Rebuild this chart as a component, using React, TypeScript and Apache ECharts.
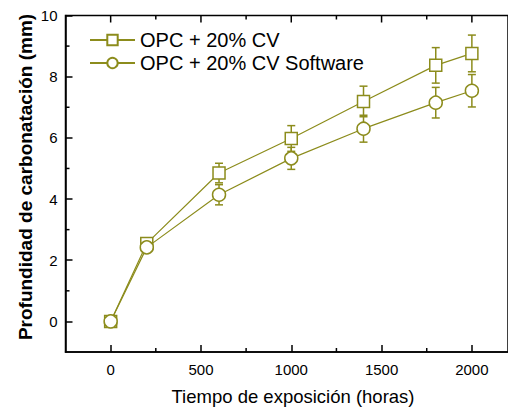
import React, { useEffect, useRef } from "react";
import * as echarts from "echarts";

const hours = [0, 200, 600, 1000, 1400, 1800, 2000];
const cvValues = [0, 2.55, 4.85, 5.98, 7.19, 8.37, 8.76];
const cvErrors = [0, 0.08, 0.32, 0.42, 0.5, 0.58, 0.6];
const swValues = [0, 2.42, 4.14, 5.33, 6.3, 7.15, 7.54];
const swErrors = [0, 0.08, 0.33, 0.36, 0.44, 0.5, 0.53];
const seriesNames = ["OPC + 20% CV", "OPC + 20% CV Software"];
const xMajor = [0, 500, 1000, 1500, 2000];
const xMinor = [250, 750, 1250, 1750];
const yMajor = [0, 2, 4, 6, 8, 10];
const yMinor = [1, 3, 5, 7, 9];
const xTitle = "Tiempo de exposición (horas)";
const yTitle = "Profundidad de carbonatación (mm)";

const X_MIN = -250;
const X_MAX = 2200;
const Y_MIN = -1;
const Y_MAX = 10;

const COLOR = "#8c8c1c";
const FONT = "'Liberation Sans', Arial, Helvetica, sans-serif";
const MAJOR_LEN = 7;
const MINOR_LEN = 4;

function errData(vals: number[], errs: number[]) {
  return hours.map((h, i) => [h, vals[i] - errs[i], vals[i] + errs[i]]);
}

function errorRender(params: any, api: any) {
  const x = api.value(0);
  const lo = api.coord([x, api.value(1)]);
  const hi = api.coord([x, api.value(2)]);
  const w = 4;
  const style = { stroke: COLOR, lineWidth: 1.5 };
  if (Math.abs(hi[1] - lo[1]) < 1) return { type: "group", children: [] };
  return {
    type: "group",
    children: [
      { type: "line", shape: { x1: lo[0], y1: lo[1], x2: hi[0], y2: hi[1] }, style },
      { type: "line", shape: { x1: lo[0] - w, y1: lo[1], x2: lo[0] + w, y2: lo[1] }, style },
      { type: "line", shape: { x1: hi[0] - w, y1: hi[1], x2: hi[0] + w, y2: hi[1] }, style },
    ],
  };
}

const titleGraphics: any[] = [
  {
    type: "text",
    x: 293,
    y: 396,
    style: { text: xTitle, fontSize: 18.5, fill: "#000", fontFamily: FONT, textAlign: "center", textVerticalAlign: "middle" },
  },
  {
    type: "text",
    x: 25,
    y: 177,
    rotation: Math.PI / 2,
    style: { text: yTitle, fontSize: 19, fontWeight: "bold", fill: "#000", fontFamily: FONT, textAlign: "center", textVerticalAlign: "middle" },
  },
];

export default function App() {
  const ref = useRef<HTMLDivElement>(null);
  useEffect(() => {
    if (!ref.current) return;
    const chart = echarts.init(ref.current, undefined, { renderer: "svg" });
    chart.setOption({
      animation: false,
      grid: {
        left: 65.5,
        top: 15.5,
        right: -2,
        bottom: 55,
        show: true,
        borderColor: "#000",
        borderWidth: 1.5,
        backgroundColor: "transparent",
      },
      legend: {
        orient: "vertical",
        left: 89,
        top: 30,
        padding: 0,
        itemWidth: 45,
        itemHeight: 13,
        itemGap: 3,
        data: seriesNames,
        textStyle: { fontSize: 20, color: "#000", fontFamily: FONT, lineHeight: 20 },
      },
      xAxis: {
        type: "value",
        min: X_MIN,
        max: X_MAX,
        position: "bottom",
        splitLine: { show: false },
        axisLine: { show: true, onZero: false, lineStyle: { color: "#000", width: 1.5 } },
        axisTick: { show: true, inside: true, length: MAJOR_LEN, customValues: xMajor, lineStyle: { color: "#000", width: 1.5 } },
        axisLabel: {
          show: true,
          customValues: xMajor,
          formatter: (v: number) => String(v),
          fontSize: 15,
          color: "#000",
          margin: 10,
          fontFamily: FONT,
        },
      },
      yAxis: {
        type: "value",
        min: Y_MIN,
        max: Y_MAX,
        position: "left",
        splitLine: { show: false },
        axisLine: { show: true, onZero: false, lineStyle: { color: "#000", width: 1.5 } },
        axisTick: { show: true, inside: true, length: MAJOR_LEN, customValues: yMajor, lineStyle: { color: "#000", width: 1.5 } },
        axisLabel: {
          show: true,
          customValues: yMajor,
          formatter: (v: number) => String(v),
          fontSize: 15,
          color: "#000",
          margin: 8,
          fontFamily: FONT,
        },
      },
      graphic: titleGraphics,
      series: [
        {
          type: "custom",
          name: "err-cv",
          renderItem: errorRender,
          data: errData(cvValues, cvErrors),
          encode: { x: 0, y: [1, 2] },
          z: 1,
        },
        {
          type: "custom",
          name: "err-sw",
          renderItem: errorRender,
          data: errData(swValues, swErrors),
          encode: { x: 0, y: [1, 2] },
          z: 1,
        },
        {
          type: "line",
          name: seriesNames[0],
          data: hours.map((h, i) => [h, cvValues[i]]),
          symbol: "rect",
          symbolSize: 12,
          showAllSymbol: true,
          lineStyle: { color: COLOR, width: 1.2 },
          itemStyle: { color: "#fff", borderColor: COLOR, borderWidth: 1.5 },
          z: 3,
        },
        {
          type: "line",
          name: seriesNames[1],
          data: hours.map((h, i) => [h, swValues[i]]),
          symbol: "circle",
          symbolSize: 13,
          showAllSymbol: true,
          lineStyle: { color: COLOR, width: 1.2 },
          itemStyle: { color: "#fff", borderColor: COLOR, borderWidth: 1.5 },
          z: 3,
        },
      ],
    });

    // minor ticks and top-edge ticks, placed via the chart's own scales
    const els: any[] = [];
    const st = { stroke: "#000", lineWidth: 1.5 };
    const finder = { gridIndex: 0 };
    const bottomTick = (v: number, len: number) => {
      const b = chart.convertToPixel(finder, [v, Y_MIN]) as number[];
      if (b && isFinite(b[0])) els.push({ type: "line", shape: { x1: b[0], y1: b[1], x2: b[0], y2: b[1] - len }, style: st });
    };
    const topTick = (v: number, len: number) => {
      const t = chart.convertToPixel(finder, [v, Y_MAX]) as number[];
      if (t && isFinite(t[0])) els.push({ type: "line", shape: { x1: t[0], y1: t[1], x2: t[0], y2: t[1] + len }, style: st });
    };
    const leftTick = (v: number, len: number) => {
      const l = chart.convertToPixel(finder, [X_MIN, v]) as number[];
      if (l && isFinite(l[0])) els.push({ type: "line", shape: { x1: l[0], y1: l[1], x2: l[0] + len, y2: l[1] }, style: st });
    };
    xMinor.forEach((v) => bottomTick(v, MINOR_LEN));
    xMajor.forEach((v) => topTick(v, MAJOR_LEN));
    xMinor.forEach((v) => topTick(v, MINOR_LEN));
    yMinor.forEach((v) => leftTick(v, MINOR_LEN));
    chart.setOption({ graphic: [...titleGraphics, ...els] });

    return () => chart.dispose();
  }, []);
  return <div ref={ref} style={{ position: "absolute", left: 0, top: 0, width: 508, height: 407 }} />;
}
